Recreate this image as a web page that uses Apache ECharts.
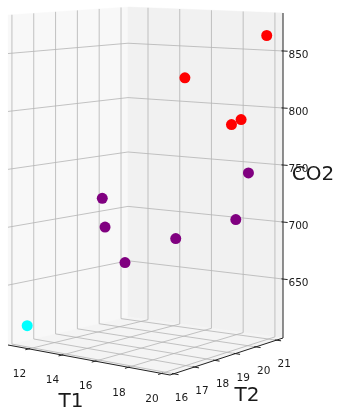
<!DOCTYPE html>
<html>
<head>
<meta charset="utf-8">
<script src="https://cdn.jsdelivr.net/npm/echarts@6/dist/echarts.min.js"></script>
<style>
  html, body { margin: 0; padding: 0; background: #ffffff; }
  #chart { width: 338px; height: 414px; }
</style>
</head>
<body>
<div id="chart"></div>
<script>
// Samples: two temperatures and a CO2 reading each, plus the cluster each belongs to
const t1 = [11.4, 14.0, 14.3, 15.0, 17.6, 19.0, 19.4, 17.0, 18.6, 19.2, 19.9];
const t2 = [16.2, 17.7, 17.6, 18.0, 18.4, 20.2, 20.5, 19.3, 20.3, 20.3, 21.0];
const co2 = [615, 725, 701, 670, 694, 705, 745, 829, 787, 792, 864];
const cluster = [2, 1, 1, 1, 1, 1, 1, 0, 0, 0, 0];
const clusterColors = ['#ff0000', '#800080', '#00ffff'];

// Axis ticks and limits
const t1Ticks = [12, 14, 16, 18, 20];
const t2Ticks = [16, 17, 18, 19, 20, 21];
const co2Ticks = [650, 700, 750, 800, 850];
const t1Range = [10.74, 20.51];
const t2Range = [15.82, 21.32];
const co2Range = [598.3, 883.3];

// Screen corners of the 3D box, keyed by (T1 end, T2 end): [bottom, top]
const boxCorners = {
  '00': [[8, 345], [8, 15]],
  '10': [[170, 375], [170, 28]],
  '11': [[283, 338], [283, 13]],
  '01': [[128, 317], [128, 7]]
};

const norm = (val, r) => (val - r[0]) / (r[1] - r[0]);

// Map normalised box coordinates (u: T1, v: T2, w: CO2) to the flat plane
function projUVW(u, v, w) {
  const k00 = (1 - u) * (1 - v), k10 = u * (1 - v), k11 = u * v, k01 = (1 - u) * v;
  const out = [0, 0];
  for (let d = 0; d < 2; d++) {
    const bot = boxCorners['00'][0][d] * k00 + boxCorners['10'][0][d] * k10 +
                boxCorners['11'][0][d] * k11 + boxCorners['01'][0][d] * k01;
    const top = boxCorners['00'][1][d] * k00 + boxCorners['10'][1][d] * k10 +
                boxCorners['11'][1][d] * k11 + boxCorners['01'][1][d] * k01;
    out[d] = bot + (top - bot) * w;
  }
  return out;
}
function project(a, b, c) {
  return projUVW(norm(a, t1Range), norm(b, t2Range), norm(c, co2Range));
}

const paneColors = { left: '#f8f8f8', right: '#f1f1f1', floor: '#f4f4f4' };
const gridColor = '#b4b4b4';
const axisColor = '#222222';
const textFont = '"DejaVu Sans", sans-serif';

function renderFrame(params, api) {
  const px = p => api.coord(p);
  const children = [];
  const poly = (pts, fill) => children.push({
    type: 'polygon', shape: { points: pts.map(p => px(p)) },
    style: { fill: fill, stroke: fill, lineWidth: 0.5 }
  });
  const seg = (p, q, color, width) => {
    const a = px(p), b = px(q);
    children.push({
      type: 'line', shape: { x1: a[0], y1: a[1], x2: b[0], y2: b[1] },
      style: { stroke: color, lineWidth: width }
    });
  };
  const text = (p, str, size, align) => {
    const a = px(p);
    children.push({
      type: 'text', x: a[0], y: a[1],
      style: {
        text: str, font: size + 'px ' + textFont, fill: '#1a1a1a',
        align: align, verticalAlign: 'middle',
        textAlign: align, textVerticalAlign: 'middle'
      }
    });
  };

  // panes
  poly([projUVW(0, 0, 0), projUVW(0, 1, 0), projUVW(0, 1, 1), projUVW(0, 0, 1)], paneColors.left);
  poly([projUVW(0, 1, 0), projUVW(1, 1, 0), projUVW(1, 1, 1), projUVW(0, 1, 1)], paneColors.right);
  poly([projUVW(0, 0, 0), projUVW(1, 0, 0), projUVW(1, 1, 0), projUVW(0, 1, 0)], paneColors.floor);

  // grid lines
  t1Ticks.forEach(t => {
    const u = norm(t, t1Range);
    seg(projUVW(u, 0, 0), projUVW(u, 1, 0), gridColor, 0.8);
    seg(projUVW(u, 1, 0), projUVW(u, 1, 1), gridColor, 0.8);
  });
  t2Ticks.forEach(t => {
    const v = norm(t, t2Range);
    seg(projUVW(0, v, 0), projUVW(1, v, 0), gridColor, 0.8);
    seg(projUVW(0, v, 0), projUVW(0, v, 1), gridColor, 0.8);
  });
  co2Ticks.forEach(t => {
    const w = norm(t, co2Range);
    seg(projUVW(0, 0, w), projUVW(0, 1, w), gridColor, 0.8);
    seg(projUVW(0, 1, w), projUVW(1, 1, w), gridColor, 0.8);
  });

  // axis lines
  seg(projUVW(0, 0, 0), projUVW(1, 0, 0), axisColor, 1);
  seg(projUVW(1, 0, 0), projUVW(1, 1, 0), axisColor, 1);
  seg(projUVW(1, 1, 0), projUVW(1, 1, 1), axisColor, 1);

  // ticks and tick labels
  t1Ticks.forEach(t => {
    const u = norm(t, t1Range);
    seg(projUVW(u, 0.01, 0), projUVW(u, -0.03, 0), axisColor, 1);
    const p = projUVW(u, 0, 0);
    text([p[0] - 9.5, p[1] + 25.5], String(t), 10.5, 'center');
  });
  t2Ticks.forEach(t => {
    const v = norm(t, t2Range);
    seg(projUVW(0.99, v, 0), projUVW(1.03, v, 0), axisColor, 1);
    const p = projUVW(1, v, 0);
    text([p[0] + 7.8, p[1] + 24.4], String(t), 10.5, 'center');
  });
  co2Ticks.forEach(t => {
    const w = norm(t, co2Range);
    seg(projUVW(0.99, 1, w), projUVW(1.03, 1, w), axisColor, 1);
    const p = projUVW(1, 1, w);
    text([p[0] + 15.5, p[1] + 4], String(t), 10.5, 'center');
  });

  // axis titles
  const m1 = projUVW(0.5, 0, 0), m2 = projUVW(1, 0.5, 0), m3 = projUVW(1, 1, 0.5);
  text([m1[0] - 18, m1[1] + 42], 'T1', 20, 'center');
  text([m2[0] + 20.5, m2[1] + 39.5], 'T2', 20, 'center');
  text([m3[0] + 30, m3[1] - 0.5], 'CO2', 20, 'center');

  return { type: 'group', children: children };
}

const points = t1.map((a, i) => ({
  value: project(a, t2[i], co2[i]),
  itemStyle: { color: clusterColors[cluster[i]], opacity: 1 }
}));

const chart = echarts.init(document.getElementById('chart'), null, { renderer: 'canvas' });
chart.setOption({
  animation: false,
  backgroundColor: '#ffffff',
  grid: { left: 0, right: 0, top: 0, bottom: 0 },
  xAxis: { type: 'value', min: 0, max: 338, show: false },
  yAxis: { type: 'value', min: 0, max: 414, inverse: true, show: false },
  series: [
    {
      type: 'custom',
      silent: true,
      clip: false,
      z: 1,
      renderItem: renderFrame,
      data: [[0, 0]]
    },
    {
      type: 'scatter',
      silent: true,
      z: 3,
      symbolSize: 11,
      itemStyle: { opacity: 1 },
      data: points
    }
  ]
});
</script>
</body>
</html>
